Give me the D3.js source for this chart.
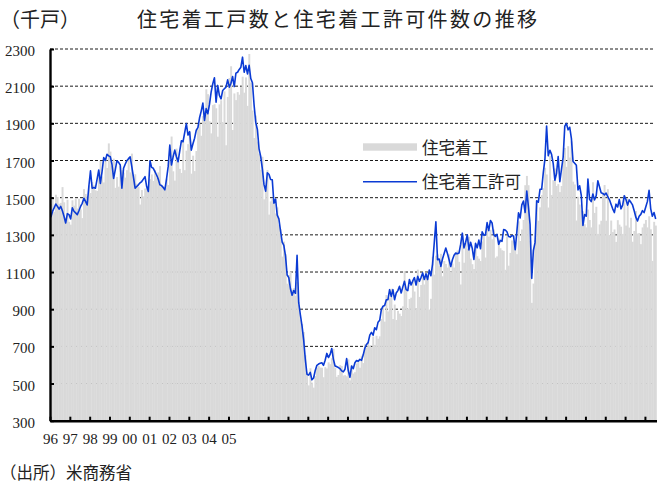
<!DOCTYPE html>
<html>
<head>
<meta charset="utf-8">
<script src="https://cdn.jsdelivr.net/npm/d3@7"></script>
<style>
  body { margin: 0; background: #fff; }
  svg { display: block; }
  .jp { font-family: "Noto Sans CJK JP", sans-serif; fill: #222; }
</style>
</head>
<body>
<svg id="chart" width="661" height="483"></svg>
<script>
// Tick labels (only the first ten years are labelled in the original)
var yearLabels = ["96", "97", "98", "99", "00", "01", "02", "03", "04", "05"];
var yTicks = [300, 500, 700, 900, 1100, 1300, 1500, 1700, 1900, 2100, 2300];

// Housing starts, monthly SAAR (thousand units), Jan 1996 -
var starts = [
  1467, 1491, 1424, 1516, 1504, 1467, 1472, 1557, 1475, 1392, 1489, 1370,
  1355, 1486, 1457, 1492, 1442, 1494, 1437, 1390, 1546, 1520, 1510, 1566,
  1525, 1584, 1567, 1540, 1536, 1641, 1698, 1614, 1582, 1715, 1660, 1792,
  1748, 1670, 1710, 1553, 1611, 1559, 1669, 1648, 1635, 1608, 1648, 1708,
  1636, 1737, 1604, 1626, 1575, 1559, 1463, 1541, 1507, 1549, 1551, 1532,
  1600, 1625, 1590, 1649, 1605, 1636, 1670, 1567, 1562, 1540, 1602, 1568,
  1698, 1829, 1642, 1592, 1764, 1717, 1655, 1633, 1804, 1648, 1753, 1788,
  1853, 1629, 1726, 1643, 1751, 1867, 1897, 1833, 1939, 1967, 2083, 2057,
  1911, 1846, 1998, 2003, 1981, 1828, 2002, 2024, 1905, 2072, 1782, 2042,
  2144, 2207, 1864, 2061, 2025, 2068, 2054, 2095, 2151, 2065, 2147, 1994,
  2273, 2119, 1969, 1821, 1942, 1802, 1737, 1650, 1720, 1491, 1570, 1649,
  1409, 1480, 1495, 1490, 1415, 1448, 1354, 1330, 1183, 1264, 1197, 1037,
  1084, 1103, 1005, 1013, 973, 1046, 923, 844, 820, 777, 652, 560,
  490, 582, 505, 478, 540, 585, 594, 586, 585, 534, 588, 581,
  614, 604, 636, 687, 583, 536, 546, 599, 594, 543, 545, 539,
  630, 517, 600, 554, 561, 608, 623, 585, 650, 610, 711, 694,
  723, 704, 695, 753, 708, 757, 741, 754, 847, 915, 833, 976,
  888, 962, 1010, 847, 925, 842, 891, 876, 863, 915, 1105, 1003,
  902, 955, 962, 1052, 995, 906, 1113, 966, 1030, 1086, 1033, 1096,
  1079, 898, 956, 1182, 1086, 1188, 1195, 1133, 1198, 1077, 1159, 1143,
  1124, 1195, 1102, 1145, 1124, 1194, 1216, 1155, 1033, 1299, 1150, 1255,
  1226, 1289, 1172, 1142, 1116, 1225, 1185, 1172, 1159, 1265, 1299, 1178,
  1334, 1290, 1327, 1276, 1329, 1177, 1184, 1280, 1228, 1217, 1214, 1112,
  1291, 1134, 1203, 1270, 1264, 1253, 1196, 1373, 1267, 1329, 1380, 1567,
  1617, 1567, 1269, 934, 1038, 1273, 1487, 1376, 1448, 1514, 1551, 1661,
  1625, 1447, 1725, 1514, 1594, 1657, 1563, 1573, 1530, 1563, 1703, 1768,
  1666, 1777, 1716, 1803, 1586, 1571, 1377, 1505, 1463, 1432, 1427, 1357,
  1340, 1436, 1380, 1340, 1583, 1418, 1451, 1305, 1356, 1376, 1525, 1568,
  1376, 1546, 1299, 1377, 1315, 1329, 1262, 1379, 1355, 1344, 1305, 1515,
  1350, 1494, 1339, 1392, 1263, 1321, 1428, 1307, 1310, 1250, 1340, 1360,
  1380, 1340, 1400, 1330, 1160, 1370, 1350
];

// Building permits, monthly SAAR (thousand units), Jan 1996 -
var permits = [
  1395, 1426, 1445, 1466, 1453, 1438, 1453, 1430, 1399, 1364, 1414, 1409,
  1386, 1445, 1427, 1418, 1409, 1430, 1453, 1470, 1497, 1480, 1461, 1560,
  1645, 1551, 1555, 1551, 1600, 1649, 1577, 1640, 1716, 1700, 1734, 1725,
  1720, 1680, 1604, 1650, 1699, 1690, 1676, 1551, 1658, 1680, 1699, 1710,
  1720, 1667, 1610, 1551, 1560, 1569, 1580, 1587, 1600, 1613, 1560, 1533,
  1699, 1663, 1658, 1640, 1622, 1600, 1569, 1565, 1555, 1542, 1600, 1667,
  1783, 1676, 1720, 1756, 1720, 1694, 1750, 1806, 1801, 1850, 1899, 1837,
  1855, 1756, 1790, 1820, 1863, 1877, 1930, 1966, 2009, 1916, 1979, 1952,
  2002, 2068, 2113, 2145, 2014, 2104, 2050, 2032, 2077, 2086, 2095, 2134,
  2095, 2116, 2152, 2098, 2170, 2175, 2190, 2202, 2256, 2175, 2211, 2166,
  2212, 2141, 2118, 1998, 1905, 1867, 1763, 1722, 1655, 1570, 1535, 1634,
  1626, 1598, 1596, 1470, 1493, 1406, 1386, 1322, 1261, 1244, 1187, 1084,
  1070, 1010, 975, 1000, 985, 1190, 935, 870, 810, 735, 630, 550,
  545, 560, 520, 530, 570, 598, 605, 609, 612, 598, 625, 662,
  640, 657, 688, 630, 594, 591, 586, 580, 568, 563, 577, 634,
  570, 534, 594, 580, 612, 624, 620, 630, 625, 653, 690, 710,
  720, 760, 775, 760, 800, 790, 830, 840, 898, 916, 920, 951,
  951, 1005, 969, 1005, 951, 987, 1000, 1023, 987, 1020, 1050, 1005,
  1000, 1060, 1030, 1052, 1070, 1030, 1077, 1050, 1070, 1095, 1060, 1090,
  1060, 1110, 1080, 1143, 1255, 1370, 1166, 1170, 1130, 1170, 1200, 1229,
  1200, 1166, 1130, 1166, 1190, 1202, 1198, 1202, 1250, 1309, 1230, 1260,
  1300, 1219, 1260, 1228, 1168, 1254, 1230, 1272, 1225, 1316, 1298, 1300,
  1366, 1323, 1377, 1364, 1301, 1292, 1303, 1249, 1270, 1265, 1328, 1326,
  1317, 1291, 1288, 1296, 1294, 1220, 1317, 1419, 1391, 1461, 1482, 1420,
  1536, 1452, 1356, 1066, 1216, 1258, 1483, 1476, 1545, 1545, 1635, 1709,
  1886, 1726, 1755, 1733, 1683, 1594, 1630, 1721, 1586, 1653, 1717, 1885,
  1899, 1865, 1879, 1819, 1695, 1685, 1674, 1542, 1564, 1512, 1351, 1409,
  1400, 1600, 1491, 1479, 1520, 1488, 1510, 1591, 1559, 1527, 1523, 1515,
  1525, 1505, 1490, 1465, 1440, 1420, 1465, 1450, 1490, 1440, 1460, 1510,
  1491, 1460, 1488, 1475, 1461, 1430, 1395, 1375, 1400, 1410, 1430, 1420,
  1450, 1480, 1540, 1440, 1400, 1420, 1385
];

var BLUE = "#0b3bd4";
var GREY = "#d9d9d9";
var NUM_FONT = "'Liberation Serif', 'Times New Roman', serif";

// Plot area
var x0 = 50, x1 = 656.5, yTop = 49, yBot = 420.7;

var svg = d3.select("#chart");

var x = d3.scaleBand()
  .domain(d3.range(starts.length))
  .range([x0, x1])
  .padding(0);
var bw = x.bandwidth();

// linear twin of the band scale, used for the year ticks
var xt = d3.scaleLinear().domain([0, starts.length]).range([x0, x1]);

var y = d3.scaleLinear().domain([300, 2300]).range([yBot, yTop]);

// Gridlines (behind the bars)
svg.append("g")
  .attr("class", "grid")
  .selectAll("line")
  .data(yTicks.filter(function(d) { return d > 300; }))
  .enter().append("line")
    .attr("x1", x0)
    .attr("x2", 655)
    .attr("y1", function(d) { return y(d); })
    .attr("y2", function(d) { return y(d); })
    .style("stroke", "#000")
    .style("stroke-width", 0.9)
    .style("stroke-dasharray", "3,2");

// Housing starts bars
svg.append("g")
  .attr("class", "bars")
  .selectAll("rect")
  .data(starts)
  .enter().append("rect")
    .attr("x", function(d, i) { return x(i); })
    .attr("width", bw + 0.3)
    .attr("y", function(d) { return y(d); })
    .attr("height", function(d) { return yBot - y(d); })
    .style("fill", GREY);

// Permits line
var line = d3.line()
  .x(function(d, i) { return x(i) + bw / 2; })
  .y(function(d) { return y(d); });

svg.append("path")
  .datum(permits)
  .attr("d", line)
  .style("fill", "none")
  .style("stroke", BLUE)
  .style("stroke-width", 1.6)
  .style("stroke-linejoin", "round");

// Y axis
var yAxis = svg.append("g")
  .attr("transform", translate(x0, 0))
  .call(d3.axisLeft(y)
    .tickValues(yTicks)
    .tickFormat(d3.format("d"))
    .tickSize(-4)
    .tickSizeOuter(0)
    .tickPadding(15));

// X axis
var xAxis = svg.append("g")
  .attr("transform", translate(0, yBot))
  .call(d3.axisBottom(xt)
    .tickValues(d3.range(0, starts.length, 12))
    .tickSize(-4)
    .tickSizeOuter(0)
    .tickFormat(function(d) { return yearLabels[d / 12] || ""; }));

[yAxis, xAxis].forEach(function(g) {
  g.attr("font-family", null).attr("font-size", null);
  g.select(".domain").style("stroke", "#000").style("stroke-width", 2.4);
  g.selectAll(".tick line").style("stroke", "#000").style("stroke-width", 2);
  g.selectAll("text")
    .style("font-family", NUM_FONT)
    .style("font-size", "15px")
    .style("fill", "#222");
});
yAxis.selectAll("text").attr("dy", null).attr("y", 6.5);
xAxis.selectAll("text").attr("dy", null).attr("y", 23.3);

// Titles
svg.append("text")
  .attr("class", "jp")
  .attr("x", 0)
  .attr("y", 26.5)
  .style("font-size", "20px")
  .text("（千戸）");

svg.append("text")
  .attr("class", "jp")
  .attr("x", 137)
  .attr("y", 27)
  .attr("textLength", 400)
  .attr("lengthAdjust", "spacing")
  .style("font-size", "20px")
  .text("住宅着工戸数と住宅着工許可件数の推移");

svg.append("text")
  .attr("class", "jp")
  .attr("x", 0)
  .attr("y", 479)
  .style("font-size", "16.5px")
  .text("（出所）米商務省");

// Legend
var legend = svg.append("g").attr("class", "legend");

legend.append("rect")
  .attr("x", 363).attr("y", 143.3)
  .attr("width", 54).attr("height", 7.4)
  .style("fill", GREY);

legend.append("text")
  .attr("class", "jp")
  .attr("x", 422).attr("y", 153.5)
  .style("font-size", "16.5px")
  .text("住宅着工");

legend.append("line")
  .attr("x1", 363).attr("x2", 417)
  .attr("y1", 181.7).attr("y2", 181.7)
  .style("stroke", BLUE)
  .style("stroke-width", 1.6);

legend.append("text")
  .attr("class", "jp")
  .attr("x", 422).attr("y", 187.5)
  .style("font-size", "16.5px")
  .text("住宅着工許可");

function translate(a, b) {
  return "translate(" + a + "," + b + ")";
}
</script>
</body>
</html>
